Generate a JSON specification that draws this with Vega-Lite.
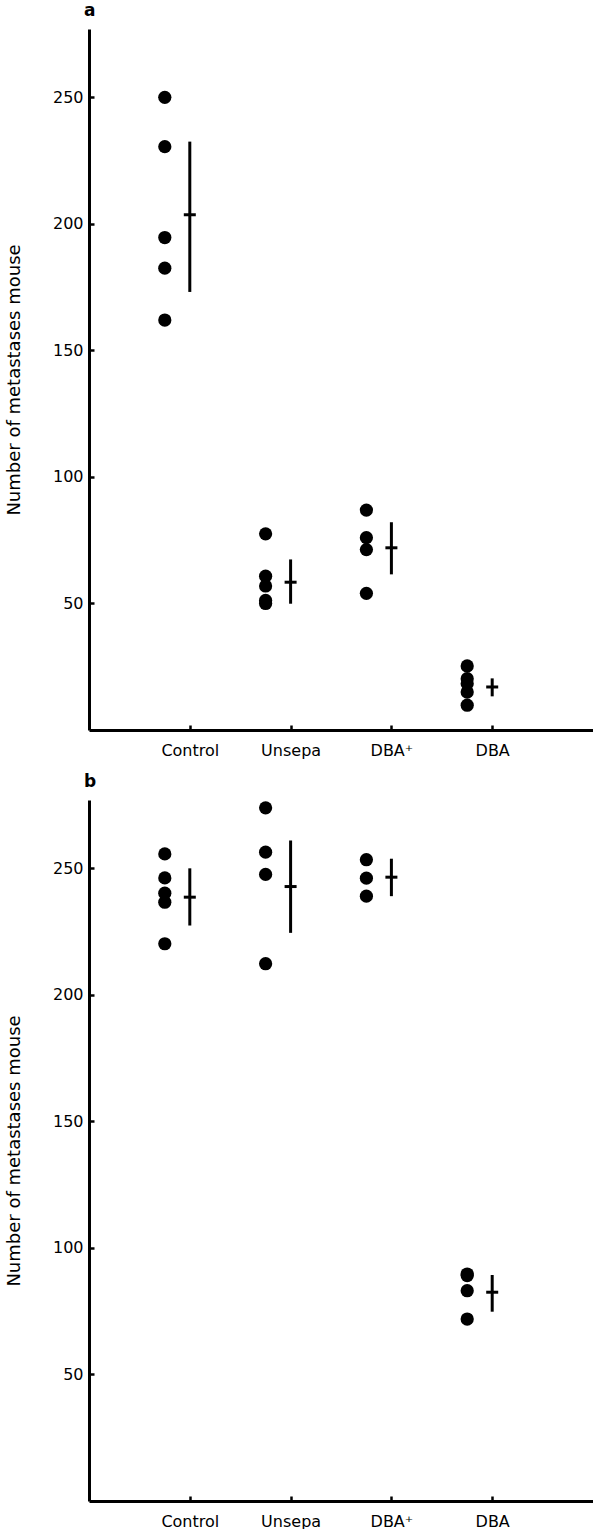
{
  "$schema": "https://vega.github.io/schema/vega-lite/v6.json",
  "padding": {"left": 5, "top": 2, "right": 0, "bottom": 0},
  "background": "white",
  "config": {
    "view": {"stroke": null},
    "font": "DejaVu Sans",
    "axis": {
      "domainColor": "black", "domainWidth": 3, "tickColor": "black", "tickWidth": 2.5, "tickSize": -5,
      "labelColor": "black", "labelFontSize": 16, "grid": false, "titleColor": "black",
      "labelFont": "DejaVu Sans", "titleFont": "DejaVu Sans"
    },
    "title": {"anchor": "start", "fontSize": 17, "fontWeight": "bold", "color": "black", "frame": "group", "font": "DejaVu Sans"},
    "concat": {"spacing": 15}
  },
  "datasets": {
    "a_dots": [
      {"group": "Control", "count": 250}, {"group": "Control", "count": 230.5}, {"group": "Control", "count": 194.6}, {"group": "Control", "count": 182.5}, {"group": "Control", "count": 162},
      {"group": "Unsepa", "count": 77.5}, {"group": "Unsepa", "count": 60.8}, {"group": "Unsepa", "count": 56.9}, {"group": "Unsepa", "count": 51.2}, {"group": "Unsepa", "count": 50.0},
      {"group": "DBA⁺", "count": 86.9}, {"group": "DBA⁺", "count": 76.0}, {"group": "DBA⁺", "count": 71.3}, {"group": "DBA⁺", "count": 54.0},
      {"group": "DBA", "count": 25.3}, {"group": "DBA", "count": 20.3}, {"group": "DBA", "count": 18.3}, {"group": "DBA", "count": 15.0}, {"group": "DBA", "count": 9.8}
    ],
    "a_means": [
      {"group": "Control", "mean": 203.6, "lo": 173.1, "hi": 232.5},
      {"group": "Unsepa", "mean": 58.4, "lo": 49.9, "hi": 67.4},
      {"group": "DBA⁺", "mean": 72.0, "lo": 61.5, "hi": 82.1},
      {"group": "DBA", "mean": 17.0, "lo": 13.3, "hi": 20.4}
    ],
    "b_dots": [
      {"group": "Control", "count": 255.7}, {"group": "Control", "count": 246.2}, {"group": "Control", "count": 240.2}, {"group": "Control", "count": 236.6}, {"group": "Control", "count": 220.2},
      {"group": "Unsepa", "count": 273.9}, {"group": "Unsepa", "count": 256.4}, {"group": "Unsepa", "count": 247.6}, {"group": "Unsepa", "count": 212.3},
      {"group": "DBA⁺", "count": 253.4}, {"group": "DBA⁺", "count": 246.1}, {"group": "DBA⁺", "count": 239.0},
      {"group": "DBA", "count": 89.7}, {"group": "DBA", "count": 89.1}, {"group": "DBA", "count": 83.1}, {"group": "DBA", "count": 71.9}
    ],
    "b_means": [
      {"group": "Control", "mean": 238.6, "lo": 227.4, "hi": 250},
      {"group": "Unsepa", "mean": 242.8, "lo": 224.5, "hi": 261},
      {"group": "DBA⁺", "mean": 246.5, "lo": 239, "hi": 253.8},
      {"group": "DBA", "mean": 82.5, "lo": 74.8, "hi": 89.3}
    ]
  },
  "vconcat": [
    {
      "title": {"text": "a", "dx": -5, "offset": 9},
      "width": 504, "height": 701,
      "encoding": {
        "x": {"field": "group", "type": "nominal", "sort": null,
              "scale": {"type": "point", "padding": 1, "domain": ["Control", "Unsepa", "DBA⁺", "DBA"]},
              "axis": {"title": null, "labelAngle": 0, "labelPadding": 17}}
      },
      "layer": [
        {"data": {"name": "a_dots"},
         "mark": {"type": "circle", "size": 175, "opacity": 1, "color": "black", "xOffset": -25},
         "encoding": {"y": {"field": "count", "type": "quantitative", "scale": {"domain": [0, 277], "nice": false},
                            "axis": {"title": "Number of metastases mouse", "titleFontSize": 18, "titleFontWeight": "normal", "titlePadding": 29, "labelPadding": 11, "values": [50, 100, 150, 200, 250]}}}},
        {"data": {"name": "a_means"},
         "mark": {"type": "rule", "strokeWidth": 3, "color": "black"},
         "encoding": {"y": {"field": "lo", "type": "quantitative"}, "y2": {"field": "hi"}}},
        {"data": {"name": "a_means"},
         "mark": {"type": "tick", "color": "black", "opacity": 1, "size": 12, "thickness": 3},
         "encoding": {"y": {"field": "mean", "type": "quantitative"}}}
      ]
    },
    {
      "title": {"text": "b", "dx": -5, "offset": 9},
      "width": 504, "height": 701,
      "encoding": {
        "x": {"field": "group", "type": "nominal", "sort": null,
              "scale": {"type": "point", "padding": 1, "domain": ["Control", "Unsepa", "DBA⁺", "DBA"]},
              "axis": {"title": null, "labelAngle": 0, "labelPadding": 17}}
      },
      "layer": [
        {"data": {"name": "b_dots"},
         "mark": {"type": "circle", "size": 175, "opacity": 1, "color": "black", "xOffset": -25},
         "encoding": {"y": {"field": "count", "type": "quantitative", "scale": {"domain": [0, 277], "nice": false},
                            "axis": {"title": "Number of metastases mouse", "titleFontSize": 18, "titleFontWeight": "normal", "titlePadding": 29, "labelPadding": 11, "values": [50, 100, 150, 200, 250]}}}},
        {"data": {"name": "b_means"},
         "mark": {"type": "rule", "strokeWidth": 3, "color": "black"},
         "encoding": {"y": {"field": "lo", "type": "quantitative"}, "y2": {"field": "hi"}}},
        {"data": {"name": "b_means"},
         "mark": {"type": "tick", "color": "black", "opacity": 1, "size": 12, "thickness": 3},
         "encoding": {"y": {"field": "mean", "type": "quantitative"}}}
      ]
    }
  ]
}
